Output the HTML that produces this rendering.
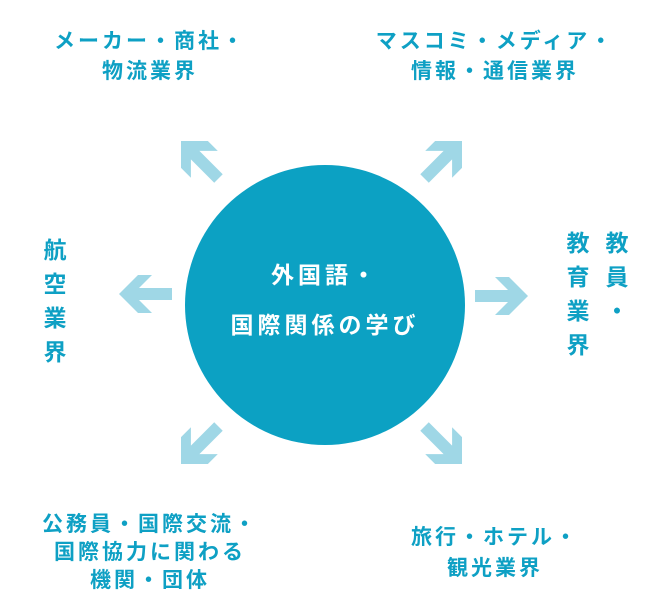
<!DOCTYPE html>
<html><head><meta charset="utf-8"><style>
body{margin:0;width:650px;height:610px;background:#fff;position:relative;overflow:hidden;font-family:"Liberation Sans","Noto Sans CJK JP",sans-serif;font-weight:bold}
.t{position:absolute;color:#0ea0c4;font-size:21px;line-height:30px;text-align:center;white-space:nowrap;letter-spacing:3px}
.v{position:absolute;color:#0ea0c4;font-size:23px;line-height:34px;width:26px;text-align:center}
.c{position:absolute;left:185px;top:165px;width:280px;height:280px;border-radius:50%;background:#0ca1c3;color:#fff;font-size:23px;line-height:50px;text-align:center;display:flex;align-items:center;justify-content:center;letter-spacing:4px}
</style></head><body>
<svg width="650" height="610" style="position:absolute;left:0;top:0">
<defs><polygon id="a" fill="#9fd7e6" points="0,0 19,-19 33,-19 20,-6 53,-6 53,6 20,6 33,19 19,19"/></defs>
<use href="#a" transform="translate(119,294)"/>
<use href="#a" transform="translate(528,296) rotate(180)"/>
<use href="#a" transform="translate(181,141) rotate(45)"/>
<use href="#a" transform="translate(462,141) rotate(135)"/>
<use href="#a" transform="translate(181,464) rotate(-45)"/>
<use href="#a" transform="translate(462,464) rotate(-135)"/>
</svg>
<div class="c"><div style="margin-top:-10px">外国語・<br>国際関係の学び</div></div>
<div class="t" style="left:30px;top:27px;width:240px">メーカー・商社・<br>物流業界</div>
<div class="t" style="left:360px;top:27px;width:270px">マスコミ・メディア・<br>情報・通信業界</div>
<div class="t" style="left:20px;top:511px;width:260px;line-height:28px">公務員・国際交流・<br>国際協力に関わる<br>機関・団体</div>
<div class="t" style="left:385px;top:522px;width:220px;line-height:31px">旅行・ホテル・<br>観光業界</div>
<div class="v" style="left:42px;top:233px">航<br>空<br>業<br>界</div>
<div class="v" style="left:565px;top:226px">教<br>育<br>業<br>界</div>
<div class="v" style="left:604px;top:226px">教<br>員<br>・</div>
</body></html>
